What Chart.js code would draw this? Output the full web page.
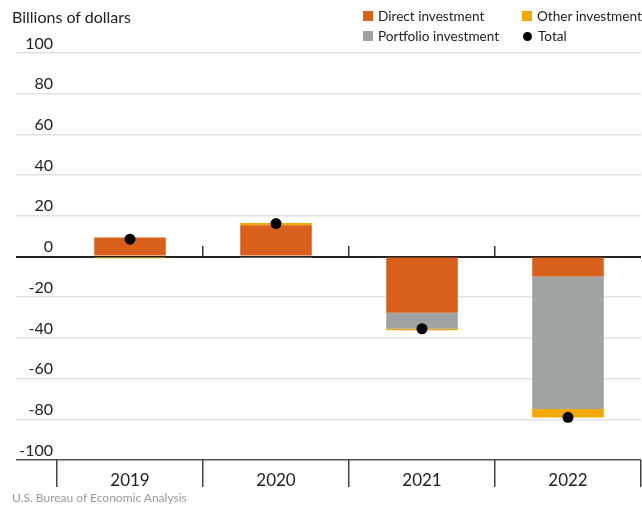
<!DOCTYPE html>
<html>
<head>
<meta charset="utf-8">
<script src="https://cdn.jsdelivr.net/npm/chart.js@4/dist/chart.umd.min.js"></script>
<style>
    body { margin: 0; background: #fff; font-family: Lato, "Open Sans", sans-serif; }
    .wrap { position: relative; width: 642px; height: 508px; overflow: hidden; }
    .unit { position: absolute; left: 12px; top: 7px; font-size: 16px; color: #222; }
    .source { position: absolute; left: 12px; top: 490px; font-size: 12px; color: #9a9a9a; }
    #legend { position: absolute; left: 363px; top: 8px; display: grid;
              grid-template-columns: 159px 130px; row-gap: 4px; font-size: 13.6px; color: #222; }
    #legend .item { display: flex; align-items: center; height: 16px; white-space: nowrap; }
    #legend .sw { width: 10px; height: 10px; margin-right: 5px; }
    #legend .dot { width: 9px; height: 9px; border-radius: 50%; margin: 0 6px 0 1px; }
</style>
</head>
<body>
<div class="wrap">
    <canvas id="flowsChart"></canvas>
    <div class="unit">Billions of dollars</div>
    <div id="legend"></div>
    <div class="source">U.S. Bureau of Economic Analysis</div>
</div>
<script>
    // Components by year, billions of dollars
    const years = ['2019', '2020', '2021', '2022'];
    const direct = [9.3, 15.3, -27.6, -9.8];
    const portfolio = [0, -0.3, -7.9, -65.1];
    const other = [-0.8, 1.2, -0.7, -4.2];
    const total = [8.5, 16.2, -35.5, -79.0];

    const yMin = -100;
    const yMax = 100;
    const yStep = 20;

    const ctx = document.getElementById('flowsChart').getContext('2d');

    const chart = new Chart(ctx, {
        type: 'bar',
        data: {
            labels: years,
            datasets: [
                {
                    label: 'Direct investment',
                    data: direct,
                    backgroundColor: '#d9601a',
                    order: 1
                },
                {
                    label: 'Portfolio investment',
                    data: portfolio,
                    backgroundColor: '#a0a3a4',
                    order: 1
                },
                {
                    label: 'Other investment',
                    data: other,
                    backgroundColor: '#f2a900',
                    order: 1
                },
                {
                    type: 'line',
                    label: 'Total',
                    data: total,
                    stack: 'total',
                    showLine: false,
                    pointRadius: 5.5,
                    pointBackgroundColor: '#000',
                    pointBorderWidth: 0,
                    order: 0
                }
            ]
        },
        options: {
            responsive: true,
            maintainAspectRatio: false,
            animation: false,
            barPercentage: 0.49,
            categoryPercentage: 1,
            layout: {
                autoPadding: false,
                padding: { top: 53, left: 16, right: 1, bottom: 20 }
            },
            plugins: {
                legend: { display: false },
                tooltip: { enabled: false }
            },
            scales: {
                x: {
                    stacked: true,
                    offset: true,
                    border: { display: false },
                    grid: {
                        offset: true,
                        drawOnChartArea: false,
                        tickLength: 27,
                        color: '#444',
                        lineWidth: 1.5
                    },
                    ticks: {
                        padding: -17,
                        color: '#222',
                        font: { family: 'Lato', size: 17 }
                    },
                    afterFit(scale) { scale.height = 28; }
                },
                // short marks on the zero line between the years
                x2: {
                    axis: 'x',
                    type: 'category',
                    position: { y: 0 },
                    offset: true,
                    border: { display: false },
                    grid: {
                        offset: true,
                        drawOnChartArea: false,
                        tickLength: -11,
                        lineWidth: 1.5,
                        color: (c) => (c.index > 0 && c.index < years.length) ? '#333' : 'rgba(0,0,0,0)'
                    },
                    ticks: { display: false },
                    afterFit(scale) { scale.height = 0; }
                },
                y: {
                    stacked: true,
                    min: yMin,
                    max: yMax,
                    border: { display: false },
                    grid: {
                        tickLength: 41,
                        color: (c) => {
                            if (c.tick.value === 0) return '#222';
                            if (c.tick.value === yMin) return '#555';
                            return '#e2e2e2';
                        },
                        lineWidth: (c) => c.tick.value === 0 ? 2 : 1.5
                    },
                    ticks: {
                        stepSize: yStep,
                        padding: -37,
                        labelOffset: -9.5,
                        color: '#222',
                        font: { family: 'Lato', size: 16 }
                    },
                    afterFit(scale) { scale.width = 41; }
                }
            }
        }
    });

    // Legend in two columns, built from the datasets
    const legendOrder = [0, 2, 1, 3];
    const legendEl = document.getElementById('legend');
    legendOrder.forEach(i => {
        const ds = chart.data.datasets[i];
        const item = document.createElement('div');
        item.className = 'item';
        const mark = document.createElement('span');
        if (ds.type === 'line') {
            mark.className = 'dot';
            mark.style.background = ds.pointBackgroundColor;
        } else {
            mark.className = 'sw';
            mark.style.background = ds.backgroundColor;
        }
        item.appendChild(mark);
        item.appendChild(document.createTextNode(ds.label));
        legendEl.appendChild(item);
    });
</script>
</body>
</html>
